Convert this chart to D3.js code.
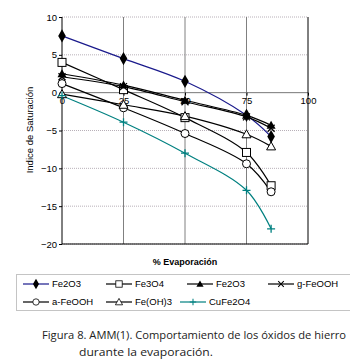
<!DOCTYPE html>
<html>
<head>
<meta charset="utf-8">
<script src="https://cdn.jsdelivr.net/npm/d3@7"></script>
<style>
  body { margin: 0; background: #fff; }
  svg { display: block; }
</style>
</head>
<body>
<div class="chart"></div>
<script>
// data
const evap = [0, 25, 50, 75, 85];
const fe2o3 = [7.5, 4.5, 1.5, -3.0, -5.8];
const fe3o4 = [4.0, 0.4, -3.3, -7.9, -12.3];
const fe2o3b = [2.5, 1.0, -1.0, -3.0, -4.3];
const gFeOOH = [2.1, 0.8, -1.2, -3.2, -4.7];
const aFeOOH = [1.2, -2.0, -5.4, -9.4, -13.1];
const feOH3 = [-0.2, -1.6, -3.1, -5.5, -7.1];
const cuFe2O4 = [-0.4, -3.9, -8.0, -12.9, -18.0];
const xTicks = [0, 25, 50, 75, 100];
const yTicks = [10, 5, 0, -5, -10, -15, -20];

const series = [
  { name: "Fe2O3", values: fe2o3, line: "#1a1a8c", mark: "diamond" },
  { name: "Fe3O4", values: fe3o4, line: "#000", mark: "square" },
  { name: "Fe2O3", values: fe2o3b, line: "#000", mark: "triangle" },
  { name: "g-FeOOH", values: gFeOOH, line: "#000", mark: "times" },
  { name: "a-FeOOH", values: aFeOOH, line: "#000", mark: "circle" },
  { name: "Fe(OH)3", values: feOH3, line: "#000", mark: "otriangle" },
  { name: "CuFe2O4", values: cuFe2O4, line: "#008080", mark: "plus" },
];

const svg = d3.select(".chart").append("svg")
  .attr("width", 350).attr("height", 362)
  .style("font-family", "'Liberation Sans', Arial, sans-serif");

const x = d3.scaleLinear().domain([0, 100]).range([62, 308]);
const y = d3.scaleLinear().domain([-20, 10]).range([244, 17]);

// grid
svg.append("g").selectAll("line").data(yTicks).join("line")
  .attr("x1", 62).attr("x2", 308)
  .attr("y1", d => y(d)).attr("y2", d => y(d))
  .attr("stroke", d => d === 0 ? "#777" : "#b8b0b8")
  .attr("stroke-dasharray", d => d === 0 ? null : "1,1")
  .attr("stroke-width", 1);
svg.append("g").selectAll("line").data(xTicks.slice(1, 4)).join("line")
  .attr("x1", d => x(d)).attr("x2", d => x(d))
  .attr("y1", 17).attr("y2", 244)
  .attr("stroke", "#808080").attr("stroke-width", 1);

// frame
svg.append("line").attr("x1", 62).attr("x2", 62).attr("y1", 17).attr("y2", 244).attr("stroke", "#000");
svg.append("line").attr("x1", 308).attr("x2", 308).attr("y1", 17).attr("y2", 244).attr("stroke", "#000");
svg.append("line").attr("x1", 62).attr("x2", 308).attr("y1", 244).attr("y2", 244).attr("stroke", "#000");

// y axis
const yAxis = svg.append("g").attr("transform", "translate(62,0)")
  .call(d3.axisLeft(y).tickValues(yTicks).tickSize(3).tickPadding(2));
yAxis.select(".domain").remove();
yAxis.selectAll("text").attr("font-size", 9.5).attr("font-family", "'Liberation Sans', Arial, sans-serif");

// x tick labels along the zero line
const xAxis = svg.append("g").attr("transform", `translate(0,${y(0)})`)
  .call(d3.axisBottom(x).tickValues(xTicks).tickSize(3).tickPadding(2));
xAxis.select(".domain").remove();
xAxis.selectAll("text").attr("font-size", 9.5).attr("font-family", "'Liberation Sans', Arial, sans-serif");

// titles
svg.append("text").attr("transform", "translate(33,130) rotate(-90)")
  .attr("text-anchor", "middle").attr("font-size", 9.5).text("Indice de Saturación");
svg.append("text").attr("x", 185).attr("y", 265)
  .attr("text-anchor", "middle").attr("font-size", 9).attr("font-weight", "bold").text("% Evaporación");

// markers
function marker(g, type, color) {
  if (type === "diamond") {
    g.append("path").attr("d", d3.symbol(d3.symbolDiamond, 50)()).attr("fill", "#000");
  } else if (type === "square") {
    g.append("rect").attr("x", -4).attr("y", -4).attr("width", 8).attr("height", 8)
      .attr("fill", "#fff").attr("stroke", "#000");
  } else if (type === "triangle") {
    g.append("path").attr("d", "M0,-4.5L4.5,3.5L-4.5,3.5Z").attr("fill", "#000");
  } else if (type === "otriangle") {
    g.append("path").attr("d", "M0,-4.5L4.5,3.5L-4.5,3.5Z").attr("fill", "#fff").attr("stroke", "#000");
  } else if (type === "circle") {
    g.append("circle").attr("r", 4).attr("fill", "#fff").attr("stroke", "#000");
  } else if (type === "times") {
    g.append("path").attr("d", "M-3.5,-3.5L3.5,3.5M-3.5,3.5L3.5,-3.5").attr("stroke", "#000").attr("stroke-width", 1.3);
  } else if (type === "plus") {
    g.append("path").attr("d", "M-4,0L4,0M0,-4L0,4").attr("stroke", color).attr("stroke-width", 1.3);
  }
}

const line = d3.line().x((d, i) => x(evap[i])).y(d => y(d)).curve(d3.curveCatmullRom.alpha(0.5));

const plot = svg.append("g");
series.forEach(s => {
  plot.append("path").datum(s.values).attr("d", line)
    .attr("fill", "none").attr("stroke", s.line).attr("stroke-width", 1.2);
});
series.forEach(s => {
  s.values.forEach((v, i) => {
    const g = plot.append("g").attr("transform", `translate(${x(evap[i])},${y(v)})`);
    marker(g, s.mark, s.line);
  });
});

// legend
svg.append("rect").attr("x", 16.5).attr("y", 274.5).attr("width", 340).attr("height", 36)
  .attr("fill", "#fff").attr("stroke", "#888").attr("stroke-dasharray", "1,1");
const legendPos = [[23, 284], [106, 284], [187, 284], [268, 284], [23, 302], [106, 302], [180, 302]];
series.forEach((s, i) => {
  const [lx, ly] = legendPos[i];
  const g = svg.append("g").attr("transform", `translate(${lx},${ly})`);
  g.append("line").attr("x1", 0).attr("x2", 26).attr("stroke", s.line).attr("stroke-width", 1.2);
  const m = g.append("g").attr("transform", "translate(13,0) scale(0.8)");
  marker(m, s.mark, s.line);
  g.append("text").attr("x", 29).attr("y", 3.3).attr("font-size", 9.5).text(s.name);
});

// caption
const cap = svg.append("g").style("font-family", "'Open Sans', 'Noto Sans', sans-serif").attr("font-size", 11).attr("fill", "#222");
cap.append("text").attr("x", 42).attr("y", 339)
  .attr("textLength", 304).attr("lengthAdjust", "spacingAndGlyphs")
  .text("Figura 8. AMM(1). Comportamiento de los óxidos de hierro");
cap.append("text").attr("x", 79).attr("y", 356)
  .attr("textLength", 134).attr("lengthAdjust", "spacingAndGlyphs")
  .text("durante la evaporación.");
</script>
</body>
</html>
